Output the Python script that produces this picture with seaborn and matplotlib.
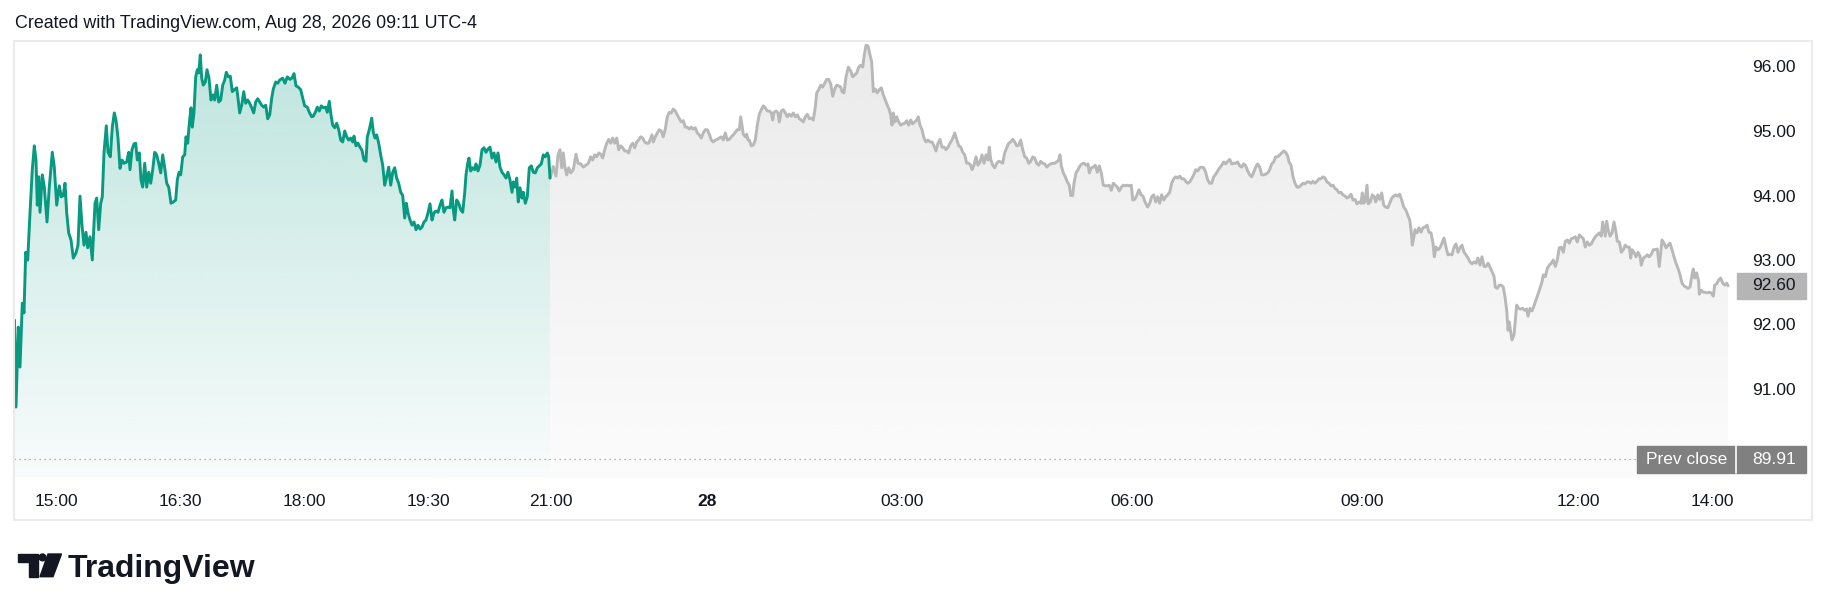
import numpy as np
import pandas as pd
import seaborn as sns
import matplotlib
matplotlib.use("Agg")
import matplotlib.pyplot as plt
from matplotlib import patches, transforms

# ---- data (bar position along the session axis, last price) ----
green_pos = [14.5, 16, 18.3, 20, 22.3, 24, 25.7, 27.7, 30, 32.3, 34.3, 36, 37.3, 38.7, 40, 42.3, 44.3, 47, 49.3,
             52.3, 54.3, 56.7, 59.3, 61.3, 63.3, 65, 66.7, 68.7, 71, 73.3, 76, 78, 80, 82, 84, 86, 87.7, 90, 92.3,
             95, 96.7, 98.7, 100.7, 102.3, 104, 106.3, 108, 110.3, 112.3, 114.3, 116, 118, 120, 122, 124, 126.7,
             128.7, 130, 132, 134, 135.7, 137.3, 139.3, 141, 142.7, 144.7, 146.7, 148.7, 150.7, 152.7, 154.7,
             156.7, 158.7, 160.7, 162.7, 164.7, 166.7, 168.7, 171, 173.3, 175.7, 177.3, 179, 180.7, 182.7, 184.7,
             186, 187.7, 189.3, 191, 192.3, 194, 195.7, 197.3, 198.7, 200.3, 201.7, 203.3, 205.3, 207, 209, 211,
             213, 214.7, 216.7, 218.7, 220.7, 222.7, 224.7, 226.3, 228.3, 230.3, 232.3, 234.3, 236.7, 238, 239.7,
             241.7, 243.7, 245.7, 247.7, 249.7, 251.7, 253.7, 255.7, 257.7, 259.7, 261.7, 263.7, 265.7, 267.7,
             269.7, 271.7, 273.3, 275.7, 277.7, 279.7, 282.7, 285, 287.3, 290, 292, 294, 296, 298.3, 300.7, 302.7,
             304.7, 307.3, 309.3, 311.7, 313.3, 315.3, 317.3, 319.3, 321.3, 323.3, 325.7, 327.3, 329.3, 331, 332.7,
             334.7, 336.7, 338.7, 340.7, 342.7, 344.7, 346.7, 348.7, 350.7, 352.7, 354, 356, 358, 360, 362, 364,
             366, 367.3, 369.3, 371.7, 373.3, 375, 376.7, 378.7, 380.7, 382.7, 384.7, 386.7, 388.7, 390.7, 392.7,
             394.7, 396.7, 398.7, 400.7, 402.7, 404.7, 406.3, 408, 410, 412, 414, 416, 418, 420, 422, 424, 426,
             428, 430, 432, 434, 436, 438, 440, 442, 444, 446, 448, 450, 452, 453.3, 454.7, 456.7, 458.7, 460.7,
             462.7, 464.7, 466, 467.7, 469, 470.7, 472.7, 474.7, 476, 478, 480, 482, 484, 486, 488, 490, 492, 494,
             496, 498, 500, 502, 504, 506, 508, 510, 512, 513.3, 515.3, 516.7, 518.3, 520, 522, 523.3, 525.3,
             527.3, 529.3, 531.3, 533.3, 535.3, 537.3, 539.3, 541.3, 543.3, 545.3, 547.3, 548.7, 550]
green_price = [92.07, 90.72, 91.96, 91.34, 92.33, 92.18, 93.12, 93.0, 93.73, 94.4, 94.77, 94.55, 93.85, 94.29,
               93.74, 94.32, 94.13, 93.59, 94.13, 94.67, 94.44, 93.85, 94.15, 93.98, 94.0, 94.19, 93.73, 93.42,
               93.31, 93.03, 93.11, 93.23, 93.99, 93.54, 93.23, 93.43, 93.19, 93.36, 93.0, 93.88, 93.96, 93.47,
               93.88, 93.98, 94.66, 95.08, 94.67, 94.6, 95.06, 95.28, 95.17, 94.89, 94.42, 94.55, 94.5, 94.52,
               94.67, 94.4, 94.71, 94.8, 94.81, 94.55, 94.66, 94.24, 94.13, 94.5, 94.13, 94.36, 94.19, 94.4, 94.67,
               94.63, 94.5, 94.35, 94.63, 94.43, 94.19, 94.13, 93.88, 93.9, 93.93, 94.24, 94.36, 94.32, 94.6,
               94.63, 94.91, 94.81, 95.12, 95.36, 95.06, 95.29, 95.84, 95.95, 95.9, 96.18, 95.82, 95.71, 95.76,
               95.95, 95.82, 95.48, 95.56, 95.48, 95.71, 95.45, 95.48, 95.71, 95.79, 95.91, 95.84, 95.85, 95.61,
               95.64, 95.67, 95.51, 95.28, 95.4, 95.61, 95.43, 95.48, 95.43, 95.36, 95.28, 95.45, 95.5, 95.45,
               95.4, 95.37, 95.4, 95.19, 95.25, 95.51, 95.65, 95.76, 95.74, 95.79, 95.82, 95.74, 95.84, 95.8,
               95.82, 95.89, 95.7, 95.68, 95.64, 95.51, 95.39, 95.37, 95.29, 95.22, 95.23, 95.29, 95.37, 95.31,
               95.39, 95.36, 95.37, 95.29, 95.46, 95.25, 95.09, 95.05, 95.12, 95.02, 94.86, 94.83, 95.0, 94.91,
               94.86, 94.89, 94.83, 94.92, 94.77, 94.81, 94.75, 94.7, 94.55, 94.53, 94.91, 95.02, 95.2, 94.98,
               94.89, 94.94, 94.81, 94.63, 94.47, 94.16, 94.29, 94.44, 94.16, 94.36, 94.43, 94.27, 94.19, 94.05,
               94.0, 93.65, 93.88, 93.73, 93.62, 93.54, 93.59, 93.47, 93.54, 93.48, 93.51, 93.59, 93.62, 93.73,
               93.87, 93.62, 93.73, 93.76, 93.74, 93.85, 93.93, 93.74, 93.81, 93.82, 93.81, 94.07, 93.78, 93.62,
               93.93, 93.88, 93.78, 93.74, 94.04, 94.32, 94.5, 94.58, 94.38, 94.43, 94.4, 94.49, 94.38, 94.47,
               94.71, 94.74, 94.67, 94.72, 94.75, 94.58, 94.66, 94.52, 94.66, 94.44, 94.36, 94.32, 94.27, 94.36,
               94.24, 94.05, 94.21, 94.13, 94.27, 93.9, 94.12, 93.96, 94.05, 93.88, 93.98, 94.43, 94.46, 94.36,
               94.35, 94.43, 94.46, 94.49, 94.63, 94.6, 94.66, 94.6, 94.27]

gray_pos = [550, 553.3, 556, 558, 560, 561.7, 563.3, 565, 566.7, 568.7, 570.7, 573.3, 576, 578, 580.7, 583.3,
            586, 588.3, 590.7, 592.7, 594.7, 596.7, 598.7, 600.7, 602.7, 604.7, 606.7, 608.7, 610.7, 612.7,
            614.7, 616.7, 618.7, 620.7, 622.7, 624.7, 626.7, 628.7, 630.7, 632.7, 634.7, 636.7, 638.7, 640.7,
            642.7, 644.7, 646.7, 648.7, 650.7, 652, 653.3, 655.3, 657.3, 659.3, 661.3, 663.3, 665.3, 667.3,
            669.3, 671.3, 673.3, 675.3, 677.3, 679.3, 681.3, 683.3, 685.3, 687.3, 689.3, 691.3, 693.3, 695.3,
            697.3, 699.3, 701.3, 703.3, 705.3, 707.3, 709.3, 711.3, 713.3, 715.3, 717.3, 719.3, 721.3, 723.3,
            725.3, 727.3, 729.3, 731.3, 733.3, 735.3, 737.3, 739.3, 740.7, 742, 743.3, 745.3, 746.7, 748, 749.3,
            751.3, 753.3, 755.3, 757.3, 759.3, 761.3, 763.3, 765.3, 767.3, 769.3, 771.3, 772.7, 774, 776, 778,
            779.3, 781.3, 783.3, 785.3, 787.3, 789.3, 791.3, 793.3, 795.3, 797.3, 799.3, 801.3, 803.3, 805.3,
            807.3, 809.3, 811.3, 813.3, 815.3, 816.7, 818.7, 820.7, 822.7, 824.7, 826.7, 828.7, 830.7, 832.7,
            834.7, 836.7, 838.7, 840.7, 842, 844, 846, 848.3, 850.7, 852.7, 854.7, 856.7, 858.7, 860.7, 862.7,
            864, 866, 868, 870, 871.7, 873.3, 875.3, 877.3, 879.3, 881.3, 883.3, 885.3, 887.3, 889.3, 890.7, 892,
            893.3, 895, 896.7, 898.7, 900.7, 902.7, 904.7, 906.7, 908.7, 910.7, 912.7, 914.7, 916.7, 918.3, 920,
            922, 924, 926, 928, 930, 932, 934, 936, 938, 940, 942, 944, 946, 948, 950, 952, 953.3, 954.7, 956.7,
            958.7, 960.7, 962.7, 964.7, 966.7, 968.7, 970.7, 972, 974, 976, 978, 980, 982, 984, 986, 988, 989.3,
            990.7, 992.7, 994.7, 996.7, 998.7, 1000.7, 1002.7, 1004.7, 1006.7, 1008.7, 1010.7, 1012.7, 1014.7,
            1016.7, 1018.7, 1020.7, 1022.7, 1024.7, 1026.7, 1028.7, 1030.7, 1032.7, 1034.7, 1036.7, 1038.7,
            1040.7, 1042.7, 1044.7, 1046.7, 1048.7, 1050.7, 1052.7, 1054.7, 1056.7, 1058.7, 1060, 1061.3, 1063.3,
            1065.3, 1067.3, 1069.3, 1070.7, 1072.7, 1074, 1076, 1078, 1080, 1082, 1084, 1086, 1088, 1089.3,
            1091.3, 1093.3, 1095.3, 1097.3, 1099.3, 1101.3, 1103.3, 1105.3, 1107.3, 1109.3, 1111.3, 1113.3,
            1115.3, 1117.3, 1119.3, 1121.3, 1123.3, 1125.3, 1127.3, 1129.3, 1131.3, 1132.7, 1134.7, 1136.7, 1139,
            1141, 1143, 1145, 1147.7, 1149.7, 1151.7, 1153.7, 1155.7, 1157.7, 1159.7, 1161.7, 1163.7, 1165.7,
            1167.7, 1169.7, 1171.7, 1173.7, 1175.7, 1177.7, 1179.7, 1181.7, 1183.7, 1185.7, 1187.7, 1189.7,
            1191.7, 1193.7, 1195.7, 1197.7, 1199.7, 1201.7, 1203.7, 1205.7, 1207.7, 1209.7, 1211.7, 1213.7,
            1215.7, 1217.7, 1219.7, 1221.7, 1223.7, 1225.7, 1227.7, 1229.7, 1231.7, 1233.7, 1235.7, 1237.7,
            1239.7, 1241.7, 1243.7, 1245.7, 1247.7, 1249.7, 1251.7, 1253.7, 1255.7, 1257.7, 1259.7, 1261.7,
            1263.7, 1265.7, 1267.7, 1269.7, 1271.7, 1273.7, 1275.7, 1277.7, 1279.7, 1281.7, 1283.7, 1285.7,
            1287.7, 1289, 1291, 1293, 1295, 1297, 1299, 1301, 1303, 1305, 1307, 1309, 1311, 1313, 1315, 1317,
            1319, 1321, 1323, 1325, 1327, 1329, 1331, 1333, 1335, 1337, 1339, 1341, 1343, 1345, 1347, 1349, 1351,
            1353, 1355, 1357, 1359, 1361, 1362.3, 1363.7, 1365, 1367, 1368.3, 1370.3, 1372.3, 1374.3, 1375.7,
            1377.7, 1379.7, 1381.7, 1383.7, 1385.7, 1387.7, 1389.7, 1391.7, 1393.7, 1395.7, 1397.7, 1399.7,
            1401.7, 1403.7, 1405.7, 1407.7, 1409.7, 1411, 1412.3, 1413.7, 1415, 1417, 1419, 1421, 1423, 1425,
            1427, 1429, 1431, 1433, 1434.3, 1436, 1438, 1440, 1442, 1444, 1446, 1448, 1450, 1452, 1454, 1456,
            1458, 1460, 1462, 1464, 1466, 1468, 1470, 1472, 1474, 1476, 1478, 1480, 1482, 1484, 1486, 1488, 1490,
            1492, 1494, 1495.3, 1497.3, 1499.3, 1501.3, 1503.3, 1505, 1506.7, 1508, 1509.3, 1510.7, 1512, 1514,
            1515.3, 1516.7, 1518.7, 1520.7, 1522.7, 1524.7, 1526.7, 1528, 1530, 1532, 1534, 1536, 1538, 1540,
            1542, 1543.3, 1545.3, 1547.3, 1549.3, 1551.3, 1553.3, 1555.3, 1557.3, 1559.3, 1561.3, 1563.3, 1565.3,
            1567.3, 1569.3, 1571.3, 1573.3, 1575.3, 1577.3, 1579.3, 1581.3, 1583.3, 1585.3, 1587.3, 1589.3,
            1591.3, 1593.3, 1595.3, 1597.3, 1599.3, 1601.3, 1602.7, 1604, 1605.3, 1606.7, 1608, 1610, 1612, 1614,
            1616, 1617.3, 1619.3, 1621.3, 1623.3, 1625.3, 1627.3, 1629.3, 1630.7, 1632, 1634, 1636, 1638, 1640,
            1641.3, 1643.3, 1645.3, 1647.3, 1649.3, 1651.3, 1653.3, 1655.3, 1657.3, 1659.3, 1660.7, 1662, 1664,
            1666, 1668, 1670, 1672, 1674, 1676, 1678, 1680, 1682, 1684, 1686, 1688, 1690, 1692, 1693.3, 1694.7,
            1696.7, 1698.7, 1699.3, 1701.3, 1703.3, 1705.3, 1707.3, 1709.3, 1711.3, 1713.3, 1714.7, 1716.7,
            1718.7, 1720.7, 1722.7, 1724.7, 1726.7, 1728]
gray_price = [94.27, 94.45, 94.3, 94.63, 94.71, 94.43, 94.66, 94.44, 94.32, 94.43, 94.35, 94.4, 94.64, 94.5,
              94.49, 94.44, 94.47, 94.5, 94.6, 94.55, 94.63, 94.6, 94.66, 94.64, 94.58, 94.71, 94.81, 94.87,
              94.81, 94.89, 94.81, 94.89, 94.71, 94.77, 94.74, 94.69, 94.69, 94.66, 94.77, 94.81, 94.74, 94.83,
              94.86, 94.91, 94.89, 94.83, 94.81, 94.81, 94.89, 94.94, 94.83, 94.91, 94.97, 95.02, 95.0, 94.91,
              95.03, 95.22, 95.29, 95.28, 95.34, 95.31, 95.25, 95.19, 95.14, 95.16, 95.06, 95.06, 95.03, 95.06,
              95.03, 95.05, 94.97, 94.94, 94.89, 94.97, 95.02, 95.02, 94.95, 94.86, 94.83, 94.86, 94.87, 94.89,
              94.91, 94.86, 94.97, 94.86, 94.87, 94.91, 94.94, 94.98, 95.02, 95.02, 95.22, 95.09, 94.95, 94.91,
              94.95, 94.86, 94.86, 94.77, 94.78, 94.86, 95.09, 95.26, 95.33, 95.39, 95.36, 95.31, 95.31, 95.28,
              95.17, 95.29, 95.31, 95.28, 95.14, 95.31, 95.33, 95.28, 95.22, 95.26, 95.23, 95.28, 95.22, 95.25,
              95.19, 95.17, 95.14, 95.22, 95.26, 95.19, 95.2, 95.17, 95.37, 95.59, 95.64, 95.71, 95.68, 95.74,
              95.8, 95.8, 95.73, 95.54, 95.65, 95.71, 95.7, 95.68, 95.61, 95.59, 95.84, 95.99, 95.93, 95.84,
              95.87, 95.9, 95.99, 96.02, 95.99, 96.15, 96.33, 96.32, 96.18, 96.07, 95.61, 95.65, 95.59, 95.64,
              95.67, 95.56, 95.48, 95.4, 95.33, 95.25, 95.09, 95.28, 95.14, 95.22, 95.14, 95.09, 95.11, 95.12,
              95.16, 95.09, 95.17, 95.11, 95.14, 95.17, 95.22, 95.09, 95.02, 94.89, 94.83, 94.86, 94.83, 94.83,
              94.77, 94.69, 94.81, 94.87, 94.75, 94.75, 94.71, 94.75, 94.81, 94.86, 94.91, 94.97, 94.87, 94.77,
              94.75, 94.67, 94.63, 94.5, 94.5, 94.47, 94.4, 94.47, 94.6, 94.47, 94.52, 94.63, 94.5, 94.63, 94.55,
              94.75, 94.56, 94.47, 94.43, 94.5, 94.53, 94.52, 94.5, 94.66, 94.74, 94.81, 94.83, 94.87, 94.83,
              94.77, 94.78, 94.86, 94.71, 94.6, 94.58, 94.5, 94.53, 94.6, 94.58, 94.5, 94.47, 94.53, 94.5, 94.49,
              94.44, 94.47, 94.49, 94.5, 94.5, 94.52, 94.55, 94.63, 94.46, 94.35, 94.29, 94.21, 94.16, 94.0, 94.0,
              94.19, 94.35, 94.4, 94.46, 94.49, 94.5, 94.47, 94.49, 94.35, 94.43, 94.44, 94.47, 94.36, 94.46,
              94.35, 94.16, 94.15, 94.15, 94.16, 94.08, 94.19, 94.16, 94.13, 94.07, 94.13, 94.16, 94.15, 94.16,
              94.15, 94.16, 93.93, 93.94, 94.0, 94.09, 94.01, 93.99, 93.9, 93.82, 93.88, 93.98, 94.01, 93.9,
              93.98, 93.88, 94.01, 93.93, 93.98, 94.01, 94.05, 94.19, 94.26, 94.29, 94.27, 94.3, 94.26, 94.26,
              94.22, 94.19, 94.21, 94.26, 94.32, 94.4, 94.38, 94.43, 94.44, 94.43, 94.36, 94.24, 94.19, 94.19,
              94.29, 94.33, 94.38, 94.43, 94.47, 94.52, 94.49, 94.53, 94.56, 94.49, 94.5, 94.5, 94.52, 94.46,
              94.44, 94.49, 94.46, 94.38, 94.32, 94.29, 94.36, 94.44, 94.49, 94.44, 94.32, 94.32, 94.33, 94.35,
              94.4, 94.49, 94.52, 94.6, 94.6, 94.63, 94.66, 94.69, 94.67, 94.61, 94.52, 94.47, 94.29, 94.19,
              94.13, 94.13, 94.16, 94.19, 94.18, 94.21, 94.21, 94.19, 94.22, 94.19, 94.22, 94.26, 94.26, 94.29,
              94.27, 94.21, 94.19, 94.15, 94.16, 94.11, 94.09, 94.04, 94.05, 94.01, 93.99, 93.96, 93.98, 94.02,
              93.93, 93.94, 93.87, 93.9, 93.88, 94.04, 93.88, 93.9, 94.16, 93.87, 93.9, 94.01, 93.98, 93.9, 94.01,
              93.94, 94.04, 93.85, 93.82, 93.81, 93.88, 93.96, 93.99, 94.01, 93.99, 94.02, 93.93, 93.82, 93.78,
              93.7, 93.62, 93.47, 93.23, 93.34, 93.47, 93.42, 93.5, 93.43, 93.5, 93.51, 93.54, 93.43, 93.42,
              93.26, 93.05, 93.2, 93.16, 93.19, 93.26, 93.34, 93.2, 93.08, 93.09, 93.08, 93.2, 93.25, 93.12,
              93.19, 93.23, 93.12, 93.08, 93.03, 92.97, 92.94, 92.97, 92.95, 93.03, 92.92, 93.05, 92.9, 92.9,
              92.95, 92.89, 92.82, 92.75, 92.58, 92.56, 92.61, 92.61, 92.58, 92.43, 92.22, 91.91, 92.04, 91.88,
              91.76, 91.84, 92.07, 92.3, 92.25, 92.24, 92.25, 92.22, 92.24, 92.13, 92.25, 92.21, 92.29, 92.38,
              92.47, 92.56, 92.66, 92.77, 92.74, 92.87, 92.92, 92.95, 93.0, 92.9, 93.0, 93.19, 93.2, 93.12, 93.29,
              93.31, 93.26, 93.33, 93.34, 93.36, 93.28, 93.39, 93.36, 93.33, 93.2, 93.28, 93.23, 93.25, 93.31,
              93.36, 93.39, 93.42, 93.37, 93.59, 93.48, 93.37, 93.6, 93.48, 93.37, 93.42, 93.59, 93.43, 93.29,
              93.28, 93.12, 93.16, 93.23, 93.2, 93.2, 93.03, 93.16, 93.12, 93.05, 93.12, 93.06, 92.92, 93.03,
              93.05, 93.08, 93.05, 93.09, 93.16, 93.16, 93.17, 92.9, 93.12, 93.31, 93.26, 93.19, 93.23, 93.26,
              93.16, 93.05, 92.95, 92.87, 92.77, 92.64, 92.6, 92.58, 92.56, 92.58, 92.77, 92.86, 92.72, 92.8,
              92.66, 92.47, 92.53, 92.5, 92.5, 92.49, 92.5, 92.49, 92.44, 92.61, 92.63, 92.69, 92.72, 92.64,
              92.61, 92.64, 92.6]

tick_pos = [56, 180, 304, 428, 551, 707, 902, 1132, 1362, 1578, 1712]
tick_labels = ["15:00", "16:30", "18:00", "19:30", "21:00", "28", "03:00", "06:00", "09:00", "12:00", "14:00"]
price_ticks = [91, 92, 93, 94, 95, 96]
last_price = 92.60
prev_close = 89.91

W, H = 1830, 611
GREEN = "#089981"
GRAY = "#b8b8b8"
TEXT = "#131722"


def px(x, y):
    """pixel (from top-left) -> figure fraction"""
    return x / W, 1 - y / H


def gradient_fill(ax, x, y, rgb, a_top, a_bot, ybot, ytop):
    poly = ax.fill_between(x, y, ybot, color="none", lw=0)
    img = np.zeros((256, 1, 4))
    img[..., :3] = matplotlib.colors.to_rgb(rgb)
    img[..., 3] = np.linspace(a_top, a_bot, 256)[:, None]
    im = ax.imshow(img, aspect="auto", origin="upper", zorder=1,
                   extent=[min(x), max(x), ybot, ytop], interpolation="bilinear")
    im.set_clip_path(poly.get_paths()[0], transform=ax.transData)


sns.set_style("white")
plt.rcParams["font.family"] = ["Liberation Sans", "DejaVu Sans"]

fig = plt.figure(figsize=(W / 100, H / 100), dpi=100)
fig.patch.set_facecolor("white")

# pane: x 14..1735, y 41..478 (pixels)
ax = fig.add_axes([14 / W, (H - 478) / H, (1735 - 14) / W, (478 - 41) / H])
y_top = 96 + (66.5 - 41) / 64.5
y_bot = 96 - (478 - 66.5) / 64.5

gradient_fill(ax, green_pos, green_price, GREEN, 0.26, 0.03, y_bot, max(green_price))
gradient_fill(ax, gray_pos, gray_price, "#b0b0b0", 0.26, 0.04, y_bot, max(gray_price))

green_df = pd.DataFrame({"pos": green_pos, "price": green_price})
gray_df = pd.DataFrame({"pos": gray_pos, "price": gray_price})
sns.lineplot(data=gray_df, x="pos", y="price", color=GRAY, linewidth=2.1,
             estimator=None, sort=False, ax=ax, zorder=3)
sns.lineplot(data=green_df, x="pos", y="price", color=GREEN, linewidth=2.1,
             estimator=None, sort=False, ax=ax, zorder=4)

ax.axhline(prev_close, color="#9a9a9a", lw=0.9, ls=(0, (1, 3)), zorder=2)

ax.set_xlim(14, 1735)
ax.set_ylim(y_bot, y_top)
ax.set_xlabel("")
ax.set_ylabel("")
for s in ax.spines.values():
    s.set_visible(False)

ax.set_xticks(tick_pos)
ax.set_xticklabels(tick_labels)
for lab in ax.get_xticklabels():
    if lab.get_text() == "28":
        lab.set_fontweight("bold")
ax.tick_params(axis="x", length=0, pad=11.5, labelsize=12.5, labelcolor=TEXT)

ax.yaxis.tick_right()
ax.set_yticks(price_ticks)
ax.set_yticklabels([f"{v:.2f}" for v in price_ticks])
ax.tick_params(axis="y", length=0, pad=12.2, labelsize=12.5, labelcolor=TEXT)

# price scale labels (x in figure fraction, y in price)
blend = transforms.blended_transform_factory(fig.transFigure, ax.transData)
ax.add_patch(patches.Rectangle((1737 / W, last_price - 0.2), 69 / W, 0.4, transform=blend,
                               color="#b5b5b5", clip_on=False, zorder=5))
ax.text(1752 / W, last_price, f"{last_price:.2f}", transform=blend, ha="left", va="center",
        fontsize=12.5, color=TEXT, zorder=6, clip_on=False)
ax.add_patch(patches.Rectangle((1637 / W, prev_close - 0.21), 169 / W, 0.42, transform=blend,
                               color="#808080", clip_on=False, zorder=5))
ax.plot([1736 / W, 1736 / W], [prev_close - 0.21, prev_close + 0.21], transform=blend,
        color="white", lw=1.2, clip_on=False, zorder=6)
ax.text(1686.5 / W, prev_close, "Prev close", transform=blend, ha="center", va="center",
        fontsize=12.5, color="white", zorder=6, clip_on=False)
ax.text(1752 / W, prev_close, f"{prev_close:.2f}", transform=blend, ha="left", va="center",
        fontsize=12.5, color="white", zorder=6, clip_on=False)

# outer frame
x0, y0 = px(14, 520)
x1, y1 = px(1812, 41)
fig.patches.append(patches.Rectangle((x0, y0), x1 - x0, y1 - y0, transform=fig.transFigure,
                                     fill=False, edgecolor="#ebebeb", lw=1.5))

# header
fig.text(*px(15, 28.5), "Created with TradingView.com, Aug 28, 2026 09:11 UTC-4",
         fontsize=12.9, color=TEXT, va="baseline", ha="left")

# TradingView logo
logo = [
    [(18.3, 554), (37.7, 554), (37.7, 576.7), (29.3, 576.7), (29.3, 561.7), (18.3, 561.7)],
    [(48, 554), (61.5, 554), (53, 576.7), (40, 576.7)],
]
for shape in logo:
    fig.patches.append(patches.Polygon([px(a, b) for a, b in shape], closed=True,
                                       transform=fig.transFigure, color=TEXT))
fig.patches.append(patches.Ellipse(px(42.5, 557.4), 6.8 / W, 6.8 / H,
                                   transform=fig.transFigure, color=TEXT))
fig.text(*px(68, 576.7), "TradingView", fontsize=23, fontweight="bold", color=TEXT,
         va="baseline", ha="left")

fig.savefig("out.png", dpi=100)
